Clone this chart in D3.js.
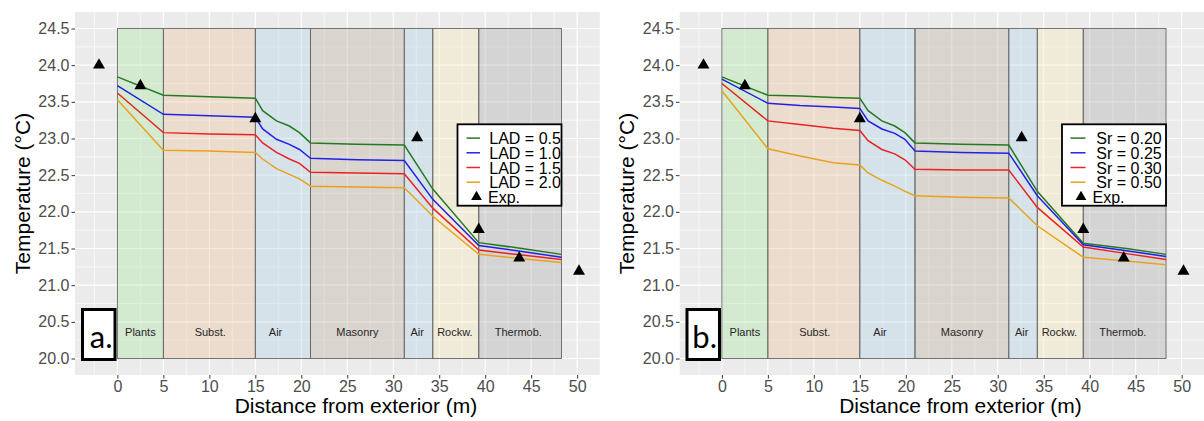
<!DOCTYPE html>
<html>
<head>
<meta charset="utf-8">
<script src="https://cdn.jsdelivr.net/npm/d3@7"></script>
<style>
  body { margin: 0; background: #fff; }
  svg { display: block; font-family: "Liberation Sans", Arial, sans-serif; }
</style>
</head>
<body>
<svg id="chart" width="1204" height="421"></svg>
<script>
// wall layers
const layerNames = ["Plants", "Subst.", "Air", "Masonry", "Air", "Rockw.", "Thermob."];
const layerEdges = [0, 5, 15, 21, 31.2, 34.3, 39.3, 48.3];
const layerLabelX = [2.5, 10.1, 17.2, 26.1, 32.6, 36.7, 43.6];

// experimental points
const expX = [-2, 2.5, 15, 32.6, 39.3, 43.7, 50.2];
const expT = [24.0, 23.72, 23.27, 23.01, 21.76, 21.37, 21.19];

// panel a: leaf area density
const xA = [0, 5, 10, 15, 15.8, 17.3, 18.7, 19.8, 21, 26, 31.2, 34.3, 39.3, 44, 48.3];
const ladNames = ["LAD = 0.5", "LAD = 1.0", "LAD = 1.5", "LAD = 2.0"];
const lad05 = [23.84, 23.59, 23.57, 23.55, 23.38, 23.24, 23.17, 23.08, 22.94, 22.92, 22.91, 22.31, 21.58, 21.50, 21.42];
const lad10 = [23.72, 23.33, 23.31, 23.29, 23.13, 22.99, 22.92, 22.85, 22.73, 22.71, 22.70, 22.17, 21.54, 21.46, 21.38];
const lad15 = [23.62, 23.08, 23.06, 23.05, 22.94, 22.81, 22.72, 22.66, 22.54, 22.53, 22.52, 22.05, 21.48, 21.41, 21.35];
const lad20 = [23.53, 22.84, 22.83, 22.81, 22.72, 22.59, 22.51, 22.45, 22.35, 22.34, 22.33, 21.94, 21.42, 21.36, 21.31];

// panel b: Sr
const xB = [0, 5, 8.5, 12.1, 15, 15.9, 17.4, 18.8, 19.9, 21, 26, 31.2, 34.3, 39.3, 44, 48.3];
const srNames = ["Sr = 0.20", "Sr = 0.25", "Sr = 0.30", "Sr = 0.50"];
const sr020 = [23.84, 23.59, 23.58, 23.56, 23.55, 23.38, 23.24, 23.17, 23.08, 22.94, 22.92, 22.91, 22.28, 21.57, 21.50, 21.42];
const sr025 = [23.81, 23.48, 23.45, 23.43, 23.41, 23.24, 23.13, 23.07, 22.99, 22.83, 22.81, 22.80, 22.22, 21.55, 21.47, 21.39];
const sr030 = [23.75, 23.24, 23.19, 23.14, 23.11, 22.97, 22.85, 22.79, 22.71, 22.58, 22.57, 22.57, 22.06, 21.52, 21.43, 21.35];
const sr050 = [23.65, 22.86, 22.76, 22.67, 22.64, 22.53, 22.43, 22.35, 22.28, 22.22, 22.20, 22.19, 21.81, 21.38, 21.33, 21.28];

const yTicks = [20, 20.5, 21, 21.5, 22, 22.5, 23, 23.5, 24, 24.5];
const xTicks = [0, 5, 10, 15, 20, 25, 30, 35, 40, 45, 50];

const lineColors = ["#237a23", "#2222e6", "#ea2222", "#e9a21c"];
const layerFills = ["#a6e89e", "#eec098", "#afd2e8", "#baa998", "#f9e8b5", "#aaaaaa"];
const layerFill = i => layerFills[[0, 1, 2, 3, 2, 4, 5][i]];

const svg = d3.select("#chart");
const panelTop = 12, panelBottom = 375, panelW = 528;

function drawPanel(opt) {
  const left = opt.left;
  const right = Math.min(left + panelW, opt.clipRight);
  const x = d3.scaleLinear().domain([-4.61, 52.81]).range([left, left + panelW]);
  const y = d3.scaleLinear().domain([19.775, 24.725]).range([panelBottom, panelTop]);

  const g = svg.append("g");
  const clipId = "clip" + opt.tag;
  g.append("clipPath").attr("id", clipId)
    .append("rect").attr("x", left).attr("y", panelTop).attr("width", right - left).attr("height", panelBottom - panelTop);
  const p = g.append("g").attr("clip-path", `url(#${clipId})`);

  p.append("rect").attr("x", left).attr("y", panelTop).attr("width", right - left).attr("height", panelBottom - panelTop)
    .attr("fill", "#ebebeb");

  // grid
  const xMinor = d3.range(-2.5, 53, 5), yMinor = d3.range(20.25, 24.5, 0.5);
  p.selectAll(".gxm").data(xMinor).join("line")
    .attr("x1", d => x(d)).attr("x2", d => x(d)).attr("y1", panelTop).attr("y2", panelBottom)
    .attr("stroke", "#fff").attr("stroke-width", 0.6);
  p.selectAll(".gym").data(yMinor).join("line")
    .attr("x1", left).attr("x2", right).attr("y1", d => y(d)).attr("y2", d => y(d))
    .attr("stroke", "#fff").attr("stroke-width", 0.6);
  p.selectAll(".gx").data(xTicks).join("line")
    .attr("x1", d => x(d)).attr("x2", d => x(d)).attr("y1", panelTop).attr("y2", panelBottom)
    .attr("stroke", "#fff").attr("stroke-width", 1.1);
  p.selectAll(".gy").data(yTicks).join("line")
    .attr("x1", left).attr("x2", right).attr("y1", d => y(d)).attr("y2", d => y(d))
    .attr("stroke", "#fff").attr("stroke-width", 1.1);

  // layers
  p.selectAll(".layer").data(layerNames).join("rect")
    .attr("x", (d, i) => x(layerEdges[i]))
    .attr("width", (d, i) => x(layerEdges[i + 1]) - x(layerEdges[i]))
    .attr("y", y(24.5)).attr("height", y(20) - y(24.5))
    .attr("fill", (d, i) => layerFill(i)).attr("fill-opacity", 0.35)
    .attr("stroke", "#666").attr("stroke-width", 0.9);
  p.selectAll(".llab").data(layerNames).join("text")
    .attr("x", (d, i) => x(layerLabelX[i])).attr("y", y(20.36))
    .attr("text-anchor", "middle").attr("dominant-baseline", "central")
    .attr("font-size", 11).attr("fill", "#262626").text(d => d);

  // model lines
  const line = d3.line().x(d => x(d[0])).y(d => y(d[1]));
  opt.series.forEach((s, k) => {
    p.append("path").datum(opt.xs.map((v, i) => [v, s[i]]))
      .attr("d", line).attr("fill", "none")
      .attr("stroke", lineColors[k]).attr("stroke-width", 1.5);
  });

  // experimental points
  const tri = d3.symbol().type(d3.symbolTriangle).size(62);
  p.selectAll(".exp").data(expX).join("path")
    .attr("transform", (d, i) => `translate(${x(d)},${y(expT[i])})`)
    .attr("d", tri).attr("fill", "#000");

  // axes
  const ya = g.append("g").attr("transform", `translate(${left},0)`)
    .call(d3.axisLeft(y).tickValues(yTicks).tickFormat(d3.format(".1f")).tickSize(3.5).tickPadding(2));
  const xa = g.append("g").attr("transform", `translate(0,${panelBottom})`)
    .call(d3.axisBottom(x).tickValues(xTicks).tickSize(3.5).tickPadding(2));
  [ya, xa].forEach(a => {
    a.select(".domain").remove();
    a.selectAll(".tick line").attr("stroke", "#333");
    a.selectAll(".tick text").attr("fill", "#4d4d4d").attr("font-size", 16)
      .attr("font-family", "Liberation Sans, Arial, sans-serif");
  });

  g.append("text").attr("transform", `translate(${left - 53},${(panelTop + panelBottom) / 2}) rotate(-90)`)
    .attr("text-anchor", "middle").attr("dominant-baseline", "central")
    .attr("font-size", 21).attr("fill", "#000").text("Temperature (°C)");
  g.append("text").attr("x", left + 281).attr("y", 413)
    .attr("text-anchor", "middle").attr("font-size", 21).attr("fill", "#000")
    .text("Distance from exterior (m)");

  // legend
  const lx = left + 382.5, ly = 124.3;
  const lg = g.append("g");
  lg.append("rect").attr("x", lx).attr("y", ly).attr("width", 104).attr("height", 81.4)
    .attr("fill", "#fff").attr("stroke", "#000").attr("stroke-width", 1.8);
  opt.names.forEach((n, k) => {
    const ry = ly + 13.8 + k * 14.7;
    lg.append("line").attr("x1", lx + opt.legLine[0]).attr("x2", lx + opt.legLine[1])
      .attr("y1", ry).attr("y2", ry).attr("stroke", lineColors[k]).attr("stroke-width", 1.5);
    lg.append("text").attr("x", lx + opt.legText).attr("y", ry + 6)
      .attr("font-size", 16).attr("fill", "#000").text(n);
  });
  const ey = ly + 13.8 + 4 * 14.7;
  lg.append("path").attr("transform", `translate(${lx + 19},${ey})`)
    .attr("d", d3.symbol().type(d3.symbolTriangle).size(50)).attr("fill", "#000");
  lg.append("text").attr("x", lx + 30.5).attr("y", ey + 6)
    .attr("font-size", 16).attr("fill", "#000").text("Exp.");

  // panel tag
  g.append("rect").attr("x", left + 7.5).attr("y", 309.5).attr("width", 32.5).attr("height", 50)
    .attr("fill", "#fff").attr("stroke", "#000").attr("stroke-width", 3);
  g.append("text").attr("x", left + 37.5).attr("y", 347.5).attr("text-anchor", "end")
    .attr("font-family", "Lato, sans-serif").attr("font-size", 31).attr("fill", "#000")
    .text(opt.tag + ".");
}

drawPanel({ left: 75, clipRight: 600, tag: "a", xs: xA,
  series: [lad05, lad10, lad15, lad20], names: ladNames, legLine: [9, 22.5], legText: 31.8 });
drawPanel({ left: 679.5, clipRight: 1204, tag: "b", xs: xB,
  series: [sr020, sr025, sr030, sr050], names: srNames, legLine: [8.5, 23.5], legText: 34.3 });
</script>
</body>
</html>
